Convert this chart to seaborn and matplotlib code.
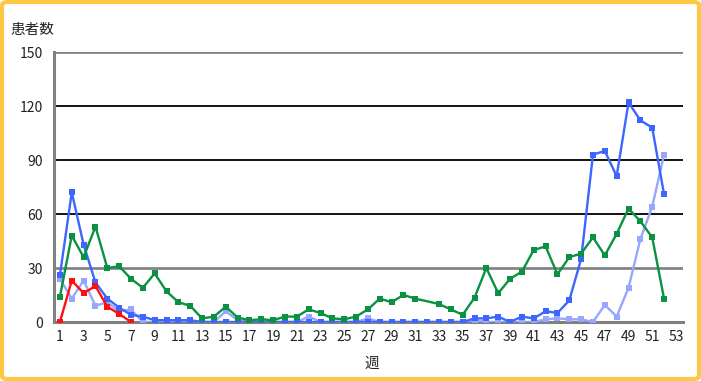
import numpy as np
import pandas as pd
import matplotlib
matplotlib.use("Agg")
import matplotlib.pyplot as plt
import seaborn as sns
from matplotlib.patches import FancyBboxPatch

weeks = list(range(1, 53))

# series values (per week 1..52); None = no data point
blue = [26, 72, 43, 22, 13, 8, 4, 3, 1, 1, 1, 1, 0, 0, 0, 0, 0, 0, 0, 0,
        0, 0, 0, 0, 0, 0, 0, 0, 0, 0, 0, 0, 0, 0, 0, 2, 2, 3, 0, 3,
        2, 6, 5, 12, 35, 93, 95, 81, 122, 112, 108, 71]
light = [24, 13, 23, 9, 11, 6, 7, 0, 0, 0, 0, 0, 0, 0, 6, 1, 0, 0, 0, 0,
         0, 3, 0, 0, 0, 0, 2, 0, 0, 0, 0, 0, 0, 0, 0, 1, 0, 0, 0, 0,
         0, 1.5, 2, 1.5, 1.5, 0, 9.5, 3, 19, 46, 64, 93]
green = [14, 48, 36, 53, 30, 31, 24, 19, 27, 17, 11, 9, 2, 3, 8.5, 2.5, 1, 1.5, 1, 3,
         3, 7, 5, 2, 1.5, 3, 7, 13, 11, 15, 13, None, 10, 7, 4, 13.5, 30, 16, 24, 28,
         40, 42, 26.5, 36, 38, 47, 37, 49, 63, 56, 47, 13]
red = [0, 23, 16, 20, 8.5, 4.5, 0]

series_names = ["light", "blue", "green", "red"]
colors = {"light": "#97A6FF", "blue": "#3D66FF", "green": "#0A9142", "red": "#FF1010"}

rows = []
for name, vals in [("light", light), ("blue", blue), ("green", green), ("red", red)]:
    for w, v in zip(weeks, vals):
        if v is not None:
            rows.append({"週": w, "患者数": v, "series": name})
df = pd.DataFrame(rows)

sns.set_style("white")
plt.rcParams["font.family"] = ["Noto Sans CJK JP", "DejaVu Sans"]

fig = plt.figure(figsize=(7.01, 3.81), dpi=100)
ax = fig.add_axes([54 / 701, 1 - 322 / 381, (683 - 54) / 701, (322 - 52) / 381])

# gridlines
for yv, c in [(30, "#808080"), (60, "black"), (90, "black"), (120, "black"), (150, "#808080")]:
    ax.axhline(yv, color=c, lw=1.3 if c == "black" else 1.9, zorder=1)

for name in series_names:
    sub = df[df["series"] == name]
    sns.lineplot(data=sub, x="週", y="患者数", ax=ax, color=colors[name],
                 marker="s", markersize=5, markeredgewidth=0, lw=1.7,
                 legend=False, zorder=3, estimator=None)

ax.set_xlim(0.5, 53.6)
ax.set_ylim(0, 150)
ax.set_yticks([0, 30, 60, 90, 120, 150])
ax.set_xticks(range(1, 54))
ax.set_xticklabels([str(i) if i % 2 == 1 else "" for i in range(1, 54)])
ax.tick_params(axis="x", direction="in", length=6, width=1, color="black",
               labelsize=10, pad=6, labelcolor="#222222")
ax.tick_params(axis="y", length=0, labelsize=10, pad=8, labelcolor="#222222")
ax.set_xlabel("")
ax.set_ylabel("")

for s in ["top", "right"]:
    ax.spines[s].set_visible(False)
for s in ["left", "bottom"]:
    ax.spines[s].set_color("#808080")
    ax.spines[s].set_linewidth(2.2)
ax.spines["bottom"].set_zorder(2)

fig.text(10 / 701, 1 - 30 / 381, "患者数", fontsize=10.5, va="center", ha="left", color="#222222")
fig.text(372 / 701, 1 - 364 / 381, "週", fontsize=10.5, va="center", ha="center", color="#222222")

border = FancyBboxPatch((2 / 701, 2 / 381), 697 / 701, 377 / 381,
                        boxstyle="round,pad=0,rounding_size=0.008",
                        transform=fig.transFigure, fill=False,
                        edgecolor="#FFC844", lw=3)
fig.patches.append(border)

fig.savefig("out.png", dpi=100)
